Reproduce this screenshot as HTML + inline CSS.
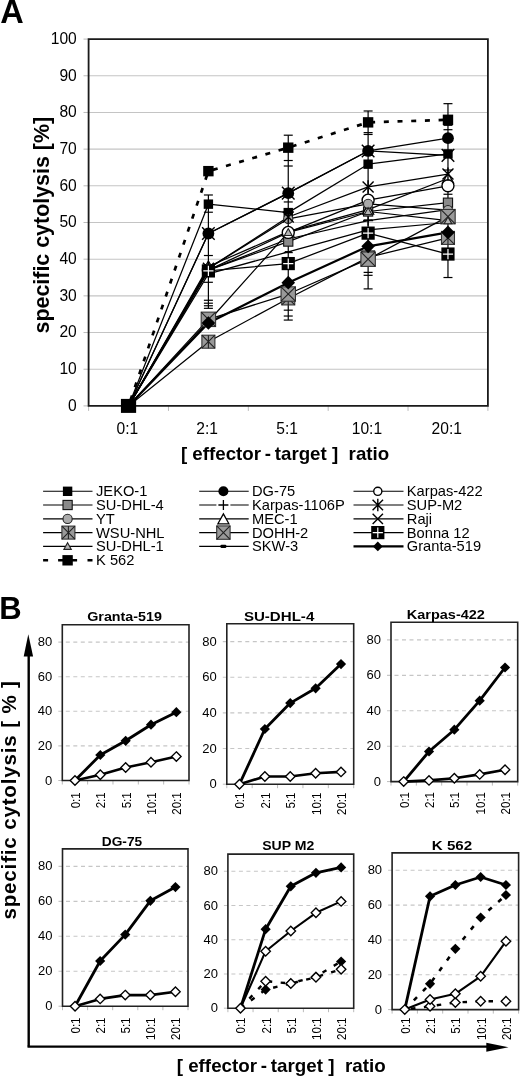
<!DOCTYPE html>
<html><head><meta charset="utf-8"><title>Figure</title>
<style>
html,body{margin:0;padding:0;background:#fff;}
body{width:520px;height:1077px;overflow:hidden;}
svg{display:block;will-change:transform;filter:blur(0.35px);}
text{font-family:"Liberation Sans", sans-serif;fill:#000;white-space:pre;}
</style></head><body>
<svg width="520" height="1077" viewBox="0 0 520 1077">
<rect width="520" height="1077" fill="#fff"/>
<line x1="88.6" y1="369.22" x2="487.9" y2="369.22" stroke="#c4c4c4" stroke-width="1.1"/>
<line x1="83.5" y1="369.22" x2="88.6" y2="369.22" stroke="#bbb" stroke-width="1"/>
<line x1="88.6" y1="332.54" x2="487.9" y2="332.54" stroke="#c4c4c4" stroke-width="1.1"/>
<line x1="83.5" y1="332.54" x2="88.6" y2="332.54" stroke="#bbb" stroke-width="1"/>
<line x1="88.6" y1="295.86" x2="487.9" y2="295.86" stroke="#c4c4c4" stroke-width="1.1"/>
<line x1="83.5" y1="295.86" x2="88.6" y2="295.86" stroke="#bbb" stroke-width="1"/>
<line x1="88.6" y1="259.18" x2="487.9" y2="259.18" stroke="#c4c4c4" stroke-width="1.1"/>
<line x1="83.5" y1="259.18" x2="88.6" y2="259.18" stroke="#bbb" stroke-width="1"/>
<line x1="88.6" y1="222.5" x2="487.9" y2="222.5" stroke="#c4c4c4" stroke-width="1.1"/>
<line x1="83.5" y1="222.5" x2="88.6" y2="222.5" stroke="#bbb" stroke-width="1"/>
<line x1="88.6" y1="185.82" x2="487.9" y2="185.82" stroke="#c4c4c4" stroke-width="1.1"/>
<line x1="83.5" y1="185.82" x2="88.6" y2="185.82" stroke="#bbb" stroke-width="1"/>
<line x1="88.6" y1="149.14" x2="487.9" y2="149.14" stroke="#c4c4c4" stroke-width="1.1"/>
<line x1="83.5" y1="149.14" x2="88.6" y2="149.14" stroke="#bbb" stroke-width="1"/>
<line x1="88.6" y1="112.46" x2="487.9" y2="112.46" stroke="#c4c4c4" stroke-width="1.1"/>
<line x1="83.5" y1="112.46" x2="88.6" y2="112.46" stroke="#bbb" stroke-width="1"/>
<line x1="88.6" y1="75.78" x2="487.9" y2="75.78" stroke="#c4c4c4" stroke-width="1.1"/>
<line x1="83.5" y1="75.78" x2="88.6" y2="75.78" stroke="#bbb" stroke-width="1"/>
<line x1="83.5" y1="39.1" x2="88.6" y2="39.1" stroke="#bbb" stroke-width="1"/>
<line x1="83.5" y1="405.9" x2="88.6" y2="405.9" stroke="#bbb" stroke-width="1"/>
<line x1="88.6" y1="405.9" x2="88.6" y2="410.9" stroke="#bbb" stroke-width="1"/>
<line x1="168.46" y1="405.9" x2="168.46" y2="410.9" stroke="#bbb" stroke-width="1"/>
<line x1="248.32" y1="405.9" x2="248.32" y2="410.9" stroke="#bbb" stroke-width="1"/>
<line x1="328.18" y1="405.9" x2="328.18" y2="410.9" stroke="#bbb" stroke-width="1"/>
<line x1="408.04" y1="405.9" x2="408.04" y2="410.9" stroke="#bbb" stroke-width="1"/>
<line x1="487.9" y1="405.9" x2="487.9" y2="410.9" stroke="#bbb" stroke-width="1"/>
<text x="76.8" y="410.8" text-anchor="end" font-size="15.6">0</text>
<text x="76.8" y="374.12" text-anchor="end" font-size="15.6">10</text>
<text x="76.8" y="337.44" text-anchor="end" font-size="15.6">20</text>
<text x="76.8" y="300.76" text-anchor="end" font-size="15.6">30</text>
<text x="76.8" y="264.08" text-anchor="end" font-size="15.6">40</text>
<text x="76.8" y="227.4" text-anchor="end" font-size="15.6">50</text>
<text x="76.8" y="190.72" text-anchor="end" font-size="15.6">60</text>
<text x="76.8" y="154.04" text-anchor="end" font-size="15.6">70</text>
<text x="76.8" y="117.36" text-anchor="end" font-size="15.6">80</text>
<text x="76.8" y="80.68" text-anchor="end" font-size="15.6">90</text>
<text x="76.8" y="44" text-anchor="end" font-size="15.6">100</text>
<text x="127.33" y="434.1" text-anchor="middle" font-size="15.6">0:1</text>
<text x="207.19" y="434.1" text-anchor="middle" font-size="15.6">2:1</text>
<text x="287.05" y="434.1" text-anchor="middle" font-size="15.6">5:1</text>
<text x="366.91" y="434.1" text-anchor="middle" font-size="15.6">10:1</text>
<text x="446.77" y="434.1" text-anchor="middle" font-size="15.6">20:1</text>
<path d="M88.6 39.1H487.9V405.9H88.6Z" fill="none" stroke="#1a1a1a" stroke-width="1.8"/>
<line x1="208.39" y1="194.99" x2="208.39" y2="308.33" stroke="#000" stroke-width="1.2"/>
<line x1="288.25" y1="135.2" x2="288.25" y2="320.07" stroke="#000" stroke-width="1.2"/>
<line x1="368.11" y1="110.99" x2="368.11" y2="288.89" stroke="#000" stroke-width="1.2"/>
<line x1="447.97" y1="103.66" x2="447.97" y2="277.52" stroke="#000" stroke-width="1.2"/>
<line x1="203.89" y1="194.99" x2="212.89" y2="194.99" stroke="#000" stroke-width="1.2"/>
<line x1="203.89" y1="212.23" x2="212.89" y2="212.23" stroke="#000" stroke-width="1.2"/>
<line x1="203.89" y1="255.51" x2="212.89" y2="255.51" stroke="#000" stroke-width="1.2"/>
<line x1="203.89" y1="282.29" x2="212.89" y2="282.29" stroke="#000" stroke-width="1.2"/>
<line x1="203.89" y1="300.26" x2="212.89" y2="300.26" stroke="#000" stroke-width="1.2"/>
<line x1="203.89" y1="303.2" x2="212.89" y2="303.2" stroke="#000" stroke-width="1.2"/>
<line x1="203.89" y1="305.76" x2="212.89" y2="305.76" stroke="#000" stroke-width="1.2"/>
<line x1="203.89" y1="308.33" x2="212.89" y2="308.33" stroke="#000" stroke-width="1.2"/>
<line x1="283.75" y1="135.2" x2="292.75" y2="135.2" stroke="#000" stroke-width="1.2"/>
<line x1="283.75" y1="160.51" x2="292.75" y2="160.51" stroke="#000" stroke-width="1.2"/>
<line x1="283.75" y1="166.01" x2="292.75" y2="166.01" stroke="#000" stroke-width="1.2"/>
<line x1="283.75" y1="201.96" x2="292.75" y2="201.96" stroke="#000" stroke-width="1.2"/>
<line x1="283.75" y1="252.58" x2="292.75" y2="252.58" stroke="#000" stroke-width="1.2"/>
<line x1="283.75" y1="310.17" x2="292.75" y2="310.17" stroke="#000" stroke-width="1.2"/>
<line x1="283.75" y1="316.03" x2="292.75" y2="316.03" stroke="#000" stroke-width="1.2"/>
<line x1="283.75" y1="320.07" x2="292.75" y2="320.07" stroke="#000" stroke-width="1.2"/>
<line x1="363.61" y1="110.99" x2="372.61" y2="110.99" stroke="#000" stroke-width="1.2"/>
<line x1="363.61" y1="132.63" x2="372.61" y2="132.63" stroke="#000" stroke-width="1.2"/>
<line x1="363.61" y1="134.47" x2="372.61" y2="134.47" stroke="#000" stroke-width="1.2"/>
<line x1="363.61" y1="219.93" x2="372.61" y2="219.93" stroke="#000" stroke-width="1.2"/>
<line x1="363.61" y1="272.38" x2="372.61" y2="272.38" stroke="#000" stroke-width="1.2"/>
<line x1="363.61" y1="275.32" x2="372.61" y2="275.32" stroke="#000" stroke-width="1.2"/>
<line x1="363.61" y1="288.89" x2="372.61" y2="288.89" stroke="#000" stroke-width="1.2"/>
<line x1="443.47" y1="103.66" x2="452.47" y2="103.66" stroke="#000" stroke-width="1.2"/>
<line x1="443.47" y1="125.3" x2="452.47" y2="125.3" stroke="#000" stroke-width="1.2"/>
<line x1="443.47" y1="129.7" x2="452.47" y2="129.7" stroke="#000" stroke-width="1.2"/>
<line x1="443.47" y1="170.05" x2="452.47" y2="170.05" stroke="#000" stroke-width="1.2"/>
<line x1="443.47" y1="194.26" x2="452.47" y2="194.26" stroke="#000" stroke-width="1.2"/>
<line x1="443.47" y1="277.52" x2="452.47" y2="277.52" stroke="#000" stroke-width="1.2"/>
<polyline points="128.53,405.9 208.39,341.71 288.25,298.43 368.11,257.35 447.97,237.91" fill="none" stroke="#000" stroke-width="1.25" stroke-linejoin="round"/>
<polyline points="128.53,405.9 208.39,273.85 288.25,251.84 368.11,229.84 447.97,222.5" fill="none" stroke="#000" stroke-width="1.25" stroke-linejoin="round"/>
<polyline points="128.53,405.9 208.39,270.18 288.25,239.01 368.11,220.67 447.97,209.66" fill="none" stroke="#000" stroke-width="1.25" stroke-linejoin="round"/>
<polyline points="128.53,405.9 208.39,270.18 288.25,241.57 368.11,211.5 447.97,202.69" fill="none" stroke="#000" stroke-width="1.25" stroke-linejoin="round"/>
<polyline points="128.53,405.9 208.39,319.34 288.25,294.03 368.11,259.18 447.97,216.63" fill="none" stroke="#000" stroke-width="1.25" stroke-linejoin="round"/>
<polyline points="128.53,405.9 208.39,266.52 288.25,231.67 368.11,209.66 447.97,178.48" fill="none" stroke="#000" stroke-width="1.25" stroke-linejoin="round"/>
<polyline points="128.53,405.9 208.39,204.16 288.25,212.6 368.11,164.18 447.97,153.91" fill="none" stroke="#000" stroke-width="1.25" stroke-linejoin="round"/>
<polyline points="128.53,405.9 208.39,270.18 288.25,232.4 368.11,200.13 447.97,185.82" fill="none" stroke="#000" stroke-width="1.25" stroke-linejoin="round"/>
<polyline points="128.53,405.9 208.39,268.35 288.25,218.83 368.11,203.79 447.97,210.03" fill="none" stroke="#000" stroke-width="1.25" stroke-linejoin="round"/>
<polyline points="128.53,405.9 208.39,321.54 288.25,232.4 368.11,211.5 447.97,220.67" fill="none" stroke="#000" stroke-width="1.25" stroke-linejoin="round"/>
<polyline points="128.53,405.9 208.39,268.35 288.25,217 368.11,186.92 447.97,174.08" fill="none" stroke="#000" stroke-width="1.25" stroke-linejoin="round"/>
<polyline points="128.53,405.9 208.39,233.5 288.25,193.16 368.11,150.97 447.97,155.38" fill="none" stroke="#000" stroke-width="1.25" stroke-linejoin="round"/>
<polyline points="128.53,405.9 208.39,270.92 288.25,263.58 368.11,233.14 447.97,254.04" fill="none" stroke="#000" stroke-width="1.25" stroke-linejoin="round"/>
<polyline points="128.53,405.9 208.39,323 288.25,282.66 368.11,246.34 447.97,232.4" fill="none" stroke="#000" stroke-width="2.2" stroke-linejoin="round"/>
<polyline points="128.53,405.9 208.39,233.5 288.25,193.16 368.11,150.97 447.97,138.14" fill="none" stroke="#000" stroke-width="1.25" stroke-linejoin="round"/>
<polyline points="128.53,405.9 208.39,171.15 288.25,147.67 368.11,122.36 447.97,119.8" fill="none" stroke="#000" stroke-width="2.7" stroke-dasharray="5 8.7" stroke-dashoffset="-6"/>
<rect x="201.89" y="335.21" width="13" height="13" fill="#999" stroke="#333" stroke-width="1.1"/><path d="M201.89 335.21L214.89 348.21M214.89 335.21L201.89 348.21" stroke="#222" stroke-width="1.1"/><path d="M208.39 335.21V348.21" stroke="#222" stroke-width="1.1"/>
<rect x="281.75" y="291.93" width="13" height="13" fill="#999" stroke="#333" stroke-width="1.1"/><path d="M281.75 291.93L294.75 304.93M294.75 291.93L281.75 304.93" stroke="#222" stroke-width="1.1"/><path d="M288.25 291.93V304.93" stroke="#222" stroke-width="1.1"/>
<rect x="361.61" y="250.85" width="13" height="13" fill="#999" stroke="#333" stroke-width="1.1"/><path d="M361.61 250.85L374.61 263.85M374.61 250.85L361.61 263.85" stroke="#222" stroke-width="1.1"/><path d="M368.11 250.85V263.85" stroke="#222" stroke-width="1.1"/>
<rect x="441.47" y="231.41" width="13" height="13" fill="#999" stroke="#333" stroke-width="1.1"/><path d="M441.47 231.41L454.47 244.41M454.47 231.41L441.47 244.41" stroke="#222" stroke-width="1.1"/><path d="M447.97 231.41V244.41" stroke="#222" stroke-width="1.1"/>
<path d="M204.89 273.85H211.89" stroke="#000" stroke-width="1.6"/>
<path d="M284.75 251.84H291.75" stroke="#000" stroke-width="1.6"/>
<path d="M364.61 229.84H371.61" stroke="#000" stroke-width="1.6"/>
<path d="M444.47 222.5H451.47" stroke="#000" stroke-width="1.6"/>
<path d="M203.39 270.18H213.39M208.39 265.18V275.18" stroke="#000" stroke-width="1.3"/>
<path d="M283.25 239.01H293.25M288.25 234.01V244.01" stroke="#000" stroke-width="1.3"/>
<path d="M363.11 220.67H373.11M368.11 215.67V225.67" stroke="#000" stroke-width="1.3"/>
<path d="M442.97 209.66H452.97M447.97 204.66V214.66" stroke="#000" stroke-width="1.3"/>
<rect x="203.79" y="265.58" width="9.2" height="9.2" fill="#8a8a8a" stroke="#111" stroke-width="1.1"/>
<rect x="283.65" y="236.97" width="9.2" height="9.2" fill="#8a8a8a" stroke="#111" stroke-width="1.1"/>
<rect x="363.51" y="206.9" width="9.2" height="9.2" fill="#8a8a8a" stroke="#111" stroke-width="1.1"/>
<rect x="443.37" y="198.09" width="9.2" height="9.2" fill="#8a8a8a" stroke="#111" stroke-width="1.1"/>
<circle cx="447.97" cy="210.03" r="4.6" fill="#aaa" stroke="#222" stroke-width="1.1"/>
<rect x="201.19" y="312.14" width="14.4" height="14.4" fill="#999" stroke="#333" stroke-width="1.1"/><path d="M201.19 312.14L215.59 326.54M215.59 312.14L201.19 326.54" stroke="#222" stroke-width="1.1"/>
<rect x="281.05" y="286.83" width="14.4" height="14.4" fill="#999" stroke="#333" stroke-width="1.1"/><path d="M281.05 286.83L295.45 301.23M295.45 286.83L281.05 301.23" stroke="#222" stroke-width="1.1"/>
<rect x="360.91" y="251.98" width="14.4" height="14.4" fill="#999" stroke="#333" stroke-width="1.1"/><path d="M360.91 251.98L375.31 266.38M375.31 251.98L360.91 266.38" stroke="#222" stroke-width="1.1"/>
<rect x="440.77" y="209.43" width="14.4" height="14.4" fill="#999" stroke="#333" stroke-width="1.1"/><path d="M440.77 209.43L455.17 223.83M455.17 209.43L440.77 223.83" stroke="#222" stroke-width="1.1"/>
<path d="M208.39 261.02L213.89 270.92L202.89 270.92Z" fill="#fff" stroke="#000" stroke-width="1.3"/>
<path d="M288.25 226.17L293.75 236.07L282.75 236.07Z" fill="#fff" stroke="#000" stroke-width="1.3"/>
<path d="M368.11 204.16L373.61 214.06L362.61 214.06Z" fill="#fff" stroke="#000" stroke-width="1.3"/>
<path d="M447.97 172.98L453.47 182.88L442.47 182.88Z" fill="#fff" stroke="#000" stroke-width="1.3"/>
<rect x="203.69" y="199.46" width="9.4" height="9.4" fill="#000"/>
<rect x="283.55" y="207.9" width="9.4" height="9.4" fill="#000"/>
<rect x="363.41" y="159.48" width="9.4" height="9.4" fill="#000"/>
<rect x="443.27" y="149.21" width="9.4" height="9.4" fill="#000"/>
<circle cx="208.39" cy="270.18" r="6" fill="#fff" stroke="#000" stroke-width="1.4"/>
<circle cx="288.25" cy="232.4" r="6" fill="#fff" stroke="#000" stroke-width="1.4"/>
<circle cx="368.11" cy="200.13" r="6" fill="#fff" stroke="#000" stroke-width="1.4"/>
<circle cx="447.97" cy="185.82" r="6" fill="#fff" stroke="#000" stroke-width="1.4"/>
<circle cx="208.39" cy="268.35" r="4.6" fill="#aaa" stroke="#222" stroke-width="1.1"/>
<circle cx="288.25" cy="218.83" r="4.6" fill="#aaa" stroke="#222" stroke-width="1.1"/>
<circle cx="368.11" cy="203.79" r="4.6" fill="#aaa" stroke="#222" stroke-width="1.1"/>
<path d="M208.39 317.74L212.19 324.58L204.59 324.58Z" fill="#b4b4b4" stroke="#222" stroke-width="1.1"/>
<path d="M288.25 228.6L292.05 235.44L284.45 235.44Z" fill="#b4b4b4" stroke="#222" stroke-width="1.1"/>
<path d="M368.11 207.7L371.91 214.54L364.31 214.54Z" fill="#b4b4b4" stroke="#222" stroke-width="1.1"/>
<path d="M447.97 216.87L451.77 223.71L444.17 223.71Z" fill="#b4b4b4" stroke="#222" stroke-width="1.1"/>
<path d="M202.89 262.85L213.89 273.85M213.89 262.85L202.89 273.85M208.39 261.75V274.95" stroke="#000" stroke-width="1.4"/>
<path d="M282.75 211.5L293.75 222.5M293.75 211.5L282.75 222.5M288.25 210.4V223.6" stroke="#000" stroke-width="1.4"/>
<path d="M362.61 181.42L373.61 192.42M373.61 181.42L362.61 192.42M368.11 180.32V193.52" stroke="#000" stroke-width="1.4"/>
<path d="M442.47 168.58L453.47 179.58M453.47 168.58L442.47 179.58M447.97 167.48V180.68" stroke="#000" stroke-width="1.4"/>
<path d="M202.09 227.2L214.69 239.8M214.69 227.2L202.09 239.8" stroke="#000" stroke-width="1.4"/>
<path d="M281.95 186.86L294.55 199.46M294.55 186.86L281.95 199.46" stroke="#000" stroke-width="1.4"/>
<path d="M361.81 144.67L374.41 157.27M374.41 144.67L361.81 157.27" stroke="#000" stroke-width="1.4"/>
<path d="M441.67 149.08L454.27 161.68M454.27 149.08L441.67 161.68" stroke="#000" stroke-width="1.4"/>
<rect x="201.79" y="264.32" width="13.2" height="13.2" fill="#000"/><path d="M203.29 270.92H213.49M208.39 265.82V276.02" stroke="#fff" stroke-width="1.2"/>
<rect x="281.65" y="256.98" width="13.2" height="13.2" fill="#000"/><path d="M283.15 263.58H293.35M288.25 258.48V268.68" stroke="#fff" stroke-width="1.2"/>
<rect x="361.51" y="226.54" width="13.2" height="13.2" fill="#000"/><path d="M363.01 233.14H373.21M368.11 228.04V238.24" stroke="#fff" stroke-width="1.2"/>
<rect x="441.37" y="247.44" width="13.2" height="13.2" fill="#000"/><path d="M442.87 254.04H453.07M447.97 248.94V259.14" stroke="#fff" stroke-width="1.2"/>
<path d="M208.39 316.2L215.19 323L208.39 329.8L201.59 323Z" fill="#000"/>
<path d="M288.25 275.86L295.05 282.66L288.25 289.46L281.45 282.66Z" fill="#000"/>
<path d="M368.11 239.54L374.91 246.34L368.11 253.14L361.31 246.34Z" fill="#000"/>
<path d="M447.97 225.6L454.77 232.4L447.97 239.2L441.17 232.4Z" fill="#000"/>
<circle cx="208.39" cy="233.5" r="5.9" fill="#000"/>
<circle cx="288.25" cy="193.16" r="5.9" fill="#000"/>
<circle cx="368.11" cy="150.97" r="5.9" fill="#000"/>
<circle cx="447.97" cy="138.14" r="5.9" fill="#000"/>
<rect x="203.19" y="165.95" width="10.4" height="10.4" fill="#000"/>
<rect x="283.05" y="142.47" width="10.4" height="10.4" fill="#000"/>
<rect x="362.91" y="117.16" width="10.4" height="10.4" fill="#000"/>
<rect x="442.77" y="114.6" width="10.4" height="10.4" fill="#000"/>
<rect x="120.93" y="398.9" width="15.2" height="14" fill="#000"/>
<text x="0.2" y="22.9" font-size="32.5" font-weight="bold">A</text>
<text transform="translate(48.9,333.5) rotate(-90)" font-size="21.4" font-weight="bold" textLength="216.6" lengthAdjust="spacingAndGlyphs">specific cytolysis [%]</text>
<text x="180.9" y="460.1" font-size="18.4" font-weight="bold" textLength="208.3" lengthAdjust="spacingAndGlyphs">[ effector&#8201;-&#8201;target ]  ratio</text>
<line x1="43.1" y1="491.3" x2="92.5" y2="491.3" stroke="#000" stroke-width="1.1"/>
<rect x="62.9" y="486.6" width="9.4" height="9.4" fill="#000"/>
<text x="96" y="496.3" font-size="14.2" textLength="51.41" lengthAdjust="spacingAndGlyphs">JEKO-1</text>
<line x1="43.1" y1="505" x2="92.5" y2="505" stroke="#000" stroke-width="1.1"/>
<rect x="63" y="500.4" width="9.2" height="9.2" fill="#8a8a8a" stroke="#111" stroke-width="1.1"/>
<text x="96" y="510" font-size="14.2" textLength="67.73" lengthAdjust="spacingAndGlyphs">SU-DHL-4</text>
<line x1="43.1" y1="518.9" x2="92.5" y2="518.9" stroke="#000" stroke-width="1.1"/>
<circle cx="67.6" cy="518.9" r="4.6" fill="#aaa" stroke="#222" stroke-width="1.1"/>
<text x="96" y="523.9" font-size="14.2" textLength="18.78" lengthAdjust="spacingAndGlyphs">YT</text>
<line x1="43.1" y1="532.6" x2="92.5" y2="532.6" stroke="#000" stroke-width="1.1"/>
<rect x="61.9" y="526.1" width="13" height="13" fill="#999" stroke="#333" stroke-width="1.1"/><path d="M61.9 526.1L74.9 539.1M74.9 526.1L61.9 539.1" stroke="#222" stroke-width="1.1"/><path d="M68.4 526.1V539.1" stroke="#222" stroke-width="1.1"/>
<text x="96" y="537.6" font-size="14.2" textLength="68.54" lengthAdjust="spacingAndGlyphs">WSU-NHL</text>
<line x1="43.1" y1="546.4" x2="92.5" y2="546.4" stroke="#000" stroke-width="1.1"/>
<path d="M67.6 542.68L71.32 549.38L63.88 549.38Z" fill="#b4b4b4" stroke="#222" stroke-width="1.1"/>
<text x="96" y="551.4" font-size="14.2" textLength="67.73" lengthAdjust="spacingAndGlyphs">SU-DHL-1</text>
<path d="M43.1 560.3H48.1M58.1 560.3H77.1M87.5 560.3H92.5" stroke="#000" stroke-width="2.6"/>
<rect x="62.4" y="555.1" width="10.4" height="10.4" fill="#000"/>
<text x="96" y="565.3" font-size="14.2" textLength="38.38" lengthAdjust="spacingAndGlyphs">K 562</text>
<line x1="199.2" y1="491.3" x2="248.7" y2="491.3" stroke="#000" stroke-width="1.1"/>
<circle cx="223.4" cy="491.3" r="5.02" fill="#000"/>
<text x="252" y="496.3" font-size="14.2" textLength="43.24" lengthAdjust="spacingAndGlyphs">DG-75</text>
<line x1="199.2" y1="505" x2="248.7" y2="505" stroke="#000" stroke-width="1.1"/>
<rect x="216.4" y="503.5" width="14" height="3" fill="#fff"/>
<path d="M218.4 505H228.4M223.4 500V510" stroke="#000" stroke-width="1.3"/>
<text x="252" y="510" font-size="14.2" textLength="92.79" lengthAdjust="spacingAndGlyphs">Karpas-1106P</text>
<line x1="199.2" y1="518.9" x2="248.7" y2="518.9" stroke="#000" stroke-width="1.1"/>
<path d="M223.4 513.9L228.9 523.8L217.9 523.8Z" fill="#fff" stroke="#000" stroke-width="1.3"/>
<text x="252" y="523.9" font-size="14.2" textLength="45.69" lengthAdjust="spacingAndGlyphs">MEC-1</text>
<line x1="199.2" y1="532.6" x2="248.7" y2="532.6" stroke="#000" stroke-width="1.1"/>
<rect x="216.7" y="525.9" width="13.39" height="13.39" fill="#999" stroke="#333" stroke-width="1.1"/><path d="M216.7 525.9L230.1 539.3M230.1 525.9L216.7 539.3" stroke="#222" stroke-width="1.1"/>
<text x="252" y="537.6" font-size="14.2" textLength="56.29" lengthAdjust="spacingAndGlyphs">DOHH-2</text>
<line x1="199.2" y1="546.4" x2="248.7" y2="546.4" stroke="#000" stroke-width="1.1"/>
<rect x="220.4" y="544.8" width="6" height="3.2" rx="1.2" fill="#000"/>
<text x="252" y="551.4" font-size="14.2" textLength="46.25" lengthAdjust="spacingAndGlyphs">SKW-3</text>
<line x1="353.5" y1="491.3" x2="403.5" y2="491.3" stroke="#000" stroke-width="1.1"/>
<circle cx="377.8" cy="491.3" r="4.08" fill="#fff" stroke="#000" stroke-width="1.4"/>
<text x="406.8" y="496.3" font-size="14.2" textLength="75.91" lengthAdjust="spacingAndGlyphs">Karpas-422</text>
<line x1="353.5" y1="505" x2="403.5" y2="505" stroke="#000" stroke-width="1.1"/>
<path d="M372.57 499.77L383.03 510.23M383.03 499.77L372.57 510.23M377.8 498.73V511.27" stroke="#000" stroke-width="1.4"/>
<text x="406.8" y="510" font-size="14.2" textLength="55.49" lengthAdjust="spacingAndGlyphs">SUP-M2</text>
<line x1="353.5" y1="518.9" x2="403.5" y2="518.9" stroke="#000" stroke-width="1.1"/>
<path d="M372.63 513.73L382.97 524.07M382.97 513.73L372.63 524.07" stroke="#000" stroke-width="1.4"/>
<text x="406.8" y="523.9" font-size="14.2" textLength="25.31" lengthAdjust="spacingAndGlyphs">Raji</text>
<line x1="353.5" y1="532.6" x2="403.5" y2="532.6" stroke="#000" stroke-width="1.1"/>
<rect x="371.2" y="526" width="13.2" height="13.2" fill="#000"/><path d="M372.7 532.6H382.9M377.8 527.5V537.7" stroke="#fff" stroke-width="1.2"/>
<text x="406.8" y="537.6" font-size="14.2" textLength="62.88" lengthAdjust="spacingAndGlyphs">Bonna 12</text>
<line x1="353.5" y1="546.4" x2="403.5" y2="546.4" stroke="#000" stroke-width="2.2"/>
<path d="M377.8 541.5L382.7 546.4L377.8 551.3L372.9 546.4Z" fill="#000"/>
<text x="406.8" y="551.4" font-size="14.2" textLength="74.26" lengthAdjust="spacingAndGlyphs">Granta-519</text>
<line x1="58.3" y1="745.9" x2="189" y2="745.9" stroke="#c6c6c6" stroke-width="1.1" stroke-dasharray="4 3.5"/>
<line x1="58.3" y1="711.3" x2="189" y2="711.3" stroke="#c6c6c6" stroke-width="1.1" stroke-dasharray="4 3.5"/>
<line x1="58.3" y1="676.7" x2="189" y2="676.7" stroke="#c6c6c6" stroke-width="1.1" stroke-dasharray="4 3.5"/>
<line x1="58.3" y1="642.1" x2="189" y2="642.1" stroke="#c6c6c6" stroke-width="1.1" stroke-dasharray="4 3.5"/>
<line x1="58.3" y1="780.5" x2="62.3" y2="780.5" stroke="#bbb" stroke-width="1"/>
<line x1="62.3" y1="780.5" x2="62.3" y2="784.5" stroke="#bbb" stroke-width="1"/>
<line x1="87.64" y1="780.5" x2="87.64" y2="784.5" stroke="#bbb" stroke-width="1"/>
<line x1="112.98" y1="780.5" x2="112.98" y2="784.5" stroke="#bbb" stroke-width="1"/>
<line x1="138.32" y1="780.5" x2="138.32" y2="784.5" stroke="#bbb" stroke-width="1"/>
<line x1="163.66" y1="780.5" x2="163.66" y2="784.5" stroke="#bbb" stroke-width="1"/>
<line x1="189" y1="780.5" x2="189" y2="784.5" stroke="#bbb" stroke-width="1"/>
<text x="52.3" y="784.6" text-anchor="end" font-size="13">0</text>
<text x="52.3" y="750" text-anchor="end" font-size="13">20</text>
<text x="52.3" y="715.4" text-anchor="end" font-size="13">40</text>
<text x="52.3" y="680.8" text-anchor="end" font-size="13">60</text>
<text x="52.3" y="646.2" text-anchor="end" font-size="13">80</text>
<text transform="translate(79.87,792.3) rotate(-90) scale(0.86,1)" text-anchor="end" font-size="13.4">0:1</text>
<text transform="translate(105.21,792.3) rotate(-90) scale(0.86,1)" text-anchor="end" font-size="13.4">2:1</text>
<text transform="translate(130.55,792.3) rotate(-90) scale(0.86,1)" text-anchor="end" font-size="13.4">5:1</text>
<text transform="translate(155.89,792.3) rotate(-90) scale(0.86,1)" text-anchor="end" font-size="13.4">10:1</text>
<text transform="translate(181.23,792.3) rotate(-90) scale(0.86,1)" text-anchor="end" font-size="13.4">20:1</text>
<path d="M62.3 624.8H189V780.5H62.3Z" fill="none" stroke="#222" stroke-width="1.6"/>
<polyline points="74.97,780.5 100.31,774.8 125.65,767.5 150.99,762.3 176.33,756.6" fill="none" stroke="#000" stroke-width="2.6" stroke-linejoin="round"/>
<polyline points="74.97,780.5 100.31,755 125.65,740.8 150.99,724.7 176.33,712.2" fill="none" stroke="#000" stroke-width="2.8" stroke-linejoin="round"/>
<path d="M100.31 770.05L105.06 774.8L100.31 779.55L95.56 774.8Z" fill="#fff" stroke="#000" stroke-width="1.35"/>
<path d="M125.65 762.75L130.4 767.5L125.65 772.25L120.9 767.5Z" fill="#fff" stroke="#000" stroke-width="1.35"/>
<path d="M150.99 757.55L155.74 762.3L150.99 767.05L146.24 762.3Z" fill="#fff" stroke="#000" stroke-width="1.35"/>
<path d="M176.33 751.85L181.08 756.6L176.33 761.35L171.58 756.6Z" fill="#fff" stroke="#000" stroke-width="1.35"/>
<path d="M100.31 749.9L105.41 755L100.31 760.1L95.21 755Z" fill="#000"/>
<path d="M125.65 735.7L130.75 740.8L125.65 745.9L120.55 740.8Z" fill="#000"/>
<path d="M150.99 719.6L156.09 724.7L150.99 729.8L145.89 724.7Z" fill="#000"/>
<path d="M176.33 707.1L181.43 712.2L176.33 717.3L171.23 712.2Z" fill="#000"/>
<path d="M74.97 775.75L79.72 780.5L74.97 785.25L70.22 780.5Z" fill="#fff" stroke="#000" stroke-width="1.35"/>
<text x="87.2" y="620.8" font-size="13.5" font-weight="bold" textLength="74.8" lengthAdjust="spacingAndGlyphs">Granta-519</text>
<line x1="222.8" y1="748.56" x2="353.7" y2="748.56" stroke="#c6c6c6" stroke-width="1.1" stroke-dasharray="4 3.5"/>
<line x1="222.8" y1="712.91" x2="353.7" y2="712.91" stroke="#c6c6c6" stroke-width="1.1" stroke-dasharray="4 3.5"/>
<line x1="222.8" y1="677.27" x2="353.7" y2="677.27" stroke="#c6c6c6" stroke-width="1.1" stroke-dasharray="4 3.5"/>
<line x1="222.8" y1="641.62" x2="353.7" y2="641.62" stroke="#c6c6c6" stroke-width="1.1" stroke-dasharray="4 3.5"/>
<line x1="222.8" y1="784.2" x2="226.8" y2="784.2" stroke="#bbb" stroke-width="1"/>
<line x1="226.8" y1="784.2" x2="226.8" y2="788.2" stroke="#bbb" stroke-width="1"/>
<line x1="252.18" y1="784.2" x2="252.18" y2="788.2" stroke="#bbb" stroke-width="1"/>
<line x1="277.56" y1="784.2" x2="277.56" y2="788.2" stroke="#bbb" stroke-width="1"/>
<line x1="302.94" y1="784.2" x2="302.94" y2="788.2" stroke="#bbb" stroke-width="1"/>
<line x1="328.32" y1="784.2" x2="328.32" y2="788.2" stroke="#bbb" stroke-width="1"/>
<line x1="353.7" y1="784.2" x2="353.7" y2="788.2" stroke="#bbb" stroke-width="1"/>
<text x="216.8" y="788.3" text-anchor="end" font-size="13">0</text>
<text x="216.8" y="752.66" text-anchor="end" font-size="13">20</text>
<text x="216.8" y="717.01" text-anchor="end" font-size="13">40</text>
<text x="216.8" y="681.37" text-anchor="end" font-size="13">60</text>
<text x="216.8" y="645.72" text-anchor="end" font-size="13">80</text>
<text transform="translate(244.39,792.6) rotate(-90) scale(0.86,1)" text-anchor="end" font-size="13.4">0:1</text>
<text transform="translate(269.77,792.6) rotate(-90) scale(0.86,1)" text-anchor="end" font-size="13.4">2:1</text>
<text transform="translate(295.15,792.6) rotate(-90) scale(0.86,1)" text-anchor="end" font-size="13.4">5:1</text>
<text transform="translate(320.53,792.6) rotate(-90) scale(0.86,1)" text-anchor="end" font-size="13.4">10:1</text>
<text transform="translate(345.91,792.6) rotate(-90) scale(0.86,1)" text-anchor="end" font-size="13.4">20:1</text>
<path d="M226.8 623.8H353.7V784.2H226.8Z" fill="none" stroke="#222" stroke-width="1.6"/>
<polyline points="239.49,784.2 264.87,776.5 290.25,776.5 315.63,773.2 341.01,771.9" fill="none" stroke="#000" stroke-width="2.6" stroke-linejoin="round"/>
<polyline points="239.49,784.2 264.87,729 290.25,703.1 315.63,688.3 341.01,664.1" fill="none" stroke="#000" stroke-width="2.8" stroke-linejoin="round"/>
<path d="M264.87 771.75L269.62 776.5L264.87 781.25L260.12 776.5Z" fill="#fff" stroke="#000" stroke-width="1.35"/>
<path d="M290.25 771.75L295 776.5L290.25 781.25L285.5 776.5Z" fill="#fff" stroke="#000" stroke-width="1.35"/>
<path d="M315.63 768.45L320.38 773.2L315.63 777.95L310.88 773.2Z" fill="#fff" stroke="#000" stroke-width="1.35"/>
<path d="M341.01 767.15L345.76 771.9L341.01 776.65L336.26 771.9Z" fill="#fff" stroke="#000" stroke-width="1.35"/>
<path d="M264.87 723.9L269.97 729L264.87 734.1L259.77 729Z" fill="#000"/>
<path d="M290.25 698L295.35 703.1L290.25 708.2L285.15 703.1Z" fill="#000"/>
<path d="M315.63 683.2L320.73 688.3L315.63 693.4L310.53 688.3Z" fill="#000"/>
<path d="M341.01 659L346.11 664.1L341.01 669.2L335.91 664.1Z" fill="#000"/>
<path d="M239.49 779.45L244.24 784.2L239.49 788.95L234.74 784.2Z" fill="#fff" stroke="#000" stroke-width="1.35"/>
<text x="243.9" y="620.8" font-size="13.5" font-weight="bold" textLength="70.4" lengthAdjust="spacingAndGlyphs">SU-DHL-4</text>
<line x1="387" y1="746.18" x2="517.7" y2="746.18" stroke="#c6c6c6" stroke-width="1.1" stroke-dasharray="4 3.5"/>
<line x1="387" y1="710.76" x2="517.7" y2="710.76" stroke="#c6c6c6" stroke-width="1.1" stroke-dasharray="4 3.5"/>
<line x1="387" y1="675.33" x2="517.7" y2="675.33" stroke="#c6c6c6" stroke-width="1.1" stroke-dasharray="4 3.5"/>
<line x1="387" y1="639.91" x2="517.7" y2="639.91" stroke="#c6c6c6" stroke-width="1.1" stroke-dasharray="4 3.5"/>
<line x1="387" y1="781.6" x2="391" y2="781.6" stroke="#bbb" stroke-width="1"/>
<line x1="391" y1="781.6" x2="391" y2="785.6" stroke="#bbb" stroke-width="1"/>
<line x1="416.34" y1="781.6" x2="416.34" y2="785.6" stroke="#bbb" stroke-width="1"/>
<line x1="441.68" y1="781.6" x2="441.68" y2="785.6" stroke="#bbb" stroke-width="1"/>
<line x1="467.02" y1="781.6" x2="467.02" y2="785.6" stroke="#bbb" stroke-width="1"/>
<line x1="492.36" y1="781.6" x2="492.36" y2="785.6" stroke="#bbb" stroke-width="1"/>
<line x1="517.7" y1="781.6" x2="517.7" y2="785.6" stroke="#bbb" stroke-width="1"/>
<text x="381" y="785.7" text-anchor="end" font-size="13">0</text>
<text x="381" y="750.28" text-anchor="end" font-size="13">20</text>
<text x="381" y="714.86" text-anchor="end" font-size="13">40</text>
<text x="381" y="679.43" text-anchor="end" font-size="13">60</text>
<text x="381" y="644.01" text-anchor="end" font-size="13">80</text>
<text transform="translate(408.57,792) rotate(-90) scale(0.86,1)" text-anchor="end" font-size="13.4">0:1</text>
<text transform="translate(433.91,792) rotate(-90) scale(0.86,1)" text-anchor="end" font-size="13.4">2:1</text>
<text transform="translate(459.25,792) rotate(-90) scale(0.86,1)" text-anchor="end" font-size="13.4">5:1</text>
<text transform="translate(484.59,792) rotate(-90) scale(0.86,1)" text-anchor="end" font-size="13.4">10:1</text>
<text transform="translate(509.93,792) rotate(-90) scale(0.86,1)" text-anchor="end" font-size="13.4">20:1</text>
<path d="M391 622.2H517.7V781.6H391Z" fill="none" stroke="#222" stroke-width="1.6"/>
<polyline points="403.67,781.6 429.01,780.4 454.35,778.2 479.69,774.4 505.03,769.8" fill="none" stroke="#000" stroke-width="2.6" stroke-linejoin="round"/>
<polyline points="403.67,781.6 429.01,751.5 454.35,729.7 479.69,700.7 505.03,667.5" fill="none" stroke="#000" stroke-width="2.8" stroke-linejoin="round"/>
<path d="M429.01 775.65L433.76 780.4L429.01 785.15L424.26 780.4Z" fill="#fff" stroke="#000" stroke-width="1.35"/>
<path d="M454.35 773.45L459.1 778.2L454.35 782.95L449.6 778.2Z" fill="#fff" stroke="#000" stroke-width="1.35"/>
<path d="M479.69 769.65L484.44 774.4L479.69 779.15L474.94 774.4Z" fill="#fff" stroke="#000" stroke-width="1.35"/>
<path d="M505.03 765.05L509.78 769.8L505.03 774.55L500.28 769.8Z" fill="#fff" stroke="#000" stroke-width="1.35"/>
<path d="M429.01 746.4L434.11 751.5L429.01 756.6L423.91 751.5Z" fill="#000"/>
<path d="M454.35 724.6L459.45 729.7L454.35 734.8L449.25 729.7Z" fill="#000"/>
<path d="M479.69 695.6L484.79 700.7L479.69 705.8L474.59 700.7Z" fill="#000"/>
<path d="M505.03 662.4L510.13 667.5L505.03 672.6L499.93 667.5Z" fill="#000"/>
<path d="M403.67 776.85L408.42 781.6L403.67 786.35L398.92 781.6Z" fill="#fff" stroke="#000" stroke-width="1.35"/>
<text x="406.8" y="618.8" font-size="13.5" font-weight="bold" textLength="78.1" lengthAdjust="spacingAndGlyphs">Karpas-422</text>
<line x1="58.5" y1="971.24" x2="188" y2="971.24" stroke="#c6c6c6" stroke-width="1.1" stroke-dasharray="4 3.5"/>
<line x1="58.5" y1="936.29" x2="188" y2="936.29" stroke="#c6c6c6" stroke-width="1.1" stroke-dasharray="4 3.5"/>
<line x1="58.5" y1="901.33" x2="188" y2="901.33" stroke="#c6c6c6" stroke-width="1.1" stroke-dasharray="4 3.5"/>
<line x1="58.5" y1="866.38" x2="188" y2="866.38" stroke="#c6c6c6" stroke-width="1.1" stroke-dasharray="4 3.5"/>
<line x1="58.5" y1="1006.2" x2="62.5" y2="1006.2" stroke="#bbb" stroke-width="1"/>
<line x1="62.5" y1="1006.2" x2="62.5" y2="1010.2" stroke="#bbb" stroke-width="1"/>
<line x1="87.6" y1="1006.2" x2="87.6" y2="1010.2" stroke="#bbb" stroke-width="1"/>
<line x1="112.7" y1="1006.2" x2="112.7" y2="1010.2" stroke="#bbb" stroke-width="1"/>
<line x1="137.8" y1="1006.2" x2="137.8" y2="1010.2" stroke="#bbb" stroke-width="1"/>
<line x1="162.9" y1="1006.2" x2="162.9" y2="1010.2" stroke="#bbb" stroke-width="1"/>
<line x1="188" y1="1006.2" x2="188" y2="1010.2" stroke="#bbb" stroke-width="1"/>
<text x="52.5" y="1010.3" text-anchor="end" font-size="13">0</text>
<text x="52.5" y="975.34" text-anchor="end" font-size="13">20</text>
<text x="52.5" y="940.39" text-anchor="end" font-size="13">40</text>
<text x="52.5" y="905.43" text-anchor="end" font-size="13">60</text>
<text x="52.5" y="870.48" text-anchor="end" font-size="13">80</text>
<text transform="translate(79.95,1017.5) rotate(-90) scale(0.86,1)" text-anchor="end" font-size="13.4">0:1</text>
<text transform="translate(105.05,1017.5) rotate(-90) scale(0.86,1)" text-anchor="end" font-size="13.4">2:1</text>
<text transform="translate(130.15,1017.5) rotate(-90) scale(0.86,1)" text-anchor="end" font-size="13.4">5:1</text>
<text transform="translate(155.25,1017.5) rotate(-90) scale(0.86,1)" text-anchor="end" font-size="13.4">10:1</text>
<text transform="translate(180.35,1017.5) rotate(-90) scale(0.86,1)" text-anchor="end" font-size="13.4">20:1</text>
<path d="M62.5 848.9H188V1006.2H62.5Z" fill="none" stroke="#222" stroke-width="1.6"/>
<polyline points="75.05,1006.2 100.15,998.9 125.25,995.1 150.35,995.1 175.45,991.7" fill="none" stroke="#000" stroke-width="2.6" stroke-linejoin="round"/>
<polyline points="75.05,1006.2 100.15,961 125.25,934.6 150.35,900.8 175.45,887.1" fill="none" stroke="#000" stroke-width="2.8" stroke-linejoin="round"/>
<path d="M100.15 994.15L104.9 998.9L100.15 1003.65L95.4 998.9Z" fill="#fff" stroke="#000" stroke-width="1.35"/>
<path d="M125.25 990.35L130 995.1L125.25 999.85L120.5 995.1Z" fill="#fff" stroke="#000" stroke-width="1.35"/>
<path d="M150.35 990.35L155.1 995.1L150.35 999.85L145.6 995.1Z" fill="#fff" stroke="#000" stroke-width="1.35"/>
<path d="M175.45 986.95L180.2 991.7L175.45 996.45L170.7 991.7Z" fill="#fff" stroke="#000" stroke-width="1.35"/>
<path d="M100.15 955.9L105.25 961L100.15 966.1L95.05 961Z" fill="#000"/>
<path d="M125.25 929.5L130.35 934.6L125.25 939.7L120.15 934.6Z" fill="#000"/>
<path d="M150.35 895.7L155.45 900.8L150.35 905.9L145.25 900.8Z" fill="#000"/>
<path d="M175.45 882L180.55 887.1L175.45 892.2L170.35 887.1Z" fill="#000"/>
<path d="M75.05 1001.45L79.8 1006.2L75.05 1010.95L70.3 1006.2Z" fill="#fff" stroke="#000" stroke-width="1.35"/>
<text x="101.8" y="846.2" font-size="13.5" font-weight="bold" textLength="40.4" lengthAdjust="spacingAndGlyphs">DG-75</text>
<line x1="223.9" y1="973.96" x2="353.7" y2="973.96" stroke="#c6c6c6" stroke-width="1.1" stroke-dasharray="4 3.5"/>
<line x1="223.9" y1="939.71" x2="353.7" y2="939.71" stroke="#c6c6c6" stroke-width="1.1" stroke-dasharray="4 3.5"/>
<line x1="223.9" y1="905.47" x2="353.7" y2="905.47" stroke="#c6c6c6" stroke-width="1.1" stroke-dasharray="4 3.5"/>
<line x1="223.9" y1="871.22" x2="353.7" y2="871.22" stroke="#c6c6c6" stroke-width="1.1" stroke-dasharray="4 3.5"/>
<line x1="223.9" y1="1008.2" x2="227.9" y2="1008.2" stroke="#bbb" stroke-width="1"/>
<line x1="227.9" y1="1008.2" x2="227.9" y2="1012.2" stroke="#bbb" stroke-width="1"/>
<line x1="253.06" y1="1008.2" x2="253.06" y2="1012.2" stroke="#bbb" stroke-width="1"/>
<line x1="278.22" y1="1008.2" x2="278.22" y2="1012.2" stroke="#bbb" stroke-width="1"/>
<line x1="303.38" y1="1008.2" x2="303.38" y2="1012.2" stroke="#bbb" stroke-width="1"/>
<line x1="328.54" y1="1008.2" x2="328.54" y2="1012.2" stroke="#bbb" stroke-width="1"/>
<line x1="353.7" y1="1008.2" x2="353.7" y2="1012.2" stroke="#bbb" stroke-width="1"/>
<text x="217.9" y="1012.3" text-anchor="end" font-size="13">0</text>
<text x="217.9" y="978.06" text-anchor="end" font-size="13">20</text>
<text x="217.9" y="943.81" text-anchor="end" font-size="13">40</text>
<text x="217.9" y="909.57" text-anchor="end" font-size="13">60</text>
<text x="217.9" y="875.32" text-anchor="end" font-size="13">80</text>
<text transform="translate(245.38,1017.5) rotate(-90) scale(0.86,1)" text-anchor="end" font-size="13.4">0:1</text>
<text transform="translate(270.54,1017.5) rotate(-90) scale(0.86,1)" text-anchor="end" font-size="13.4">2:1</text>
<text transform="translate(295.7,1017.5) rotate(-90) scale(0.86,1)" text-anchor="end" font-size="13.4">5:1</text>
<text transform="translate(320.86,1017.5) rotate(-90) scale(0.86,1)" text-anchor="end" font-size="13.4">10:1</text>
<text transform="translate(346.02,1017.5) rotate(-90) scale(0.86,1)" text-anchor="end" font-size="13.4">20:1</text>
<path d="M227.9 854.1H353.7V1008.2H227.9Z" fill="none" stroke="#222" stroke-width="1.6"/>
<polyline points="240.48,1008.2 265.64,981.2 290.8,983.5 315.96,977.2 341.12,969.2" fill="none" stroke="#000" stroke-width="2.4" stroke-linejoin="round" stroke-dasharray="4.5 8.5"/>
<polyline points="240.48,1008.2 265.64,989.6 290.8,983.3 315.96,976.5 341.12,961.5" fill="none" stroke="#000" stroke-width="2.4" stroke-linejoin="round" stroke-dasharray="4.5 8.5"/>
<polyline points="240.48,1008.2 265.64,951.2 290.8,931 315.96,912.8 341.12,901.4" fill="none" stroke="#000" stroke-width="2.1" stroke-linejoin="round"/>
<polyline points="240.48,1008.2 265.64,929.2 290.8,886.3 315.96,872.8 341.12,867.4" fill="none" stroke="#000" stroke-width="2.8" stroke-linejoin="round"/>
<path d="M265.64 984.5L270.74 989.6L265.64 994.7L260.54 989.6Z" fill="#000"/>
<path d="M290.8 978.2L295.9 983.3L290.8 988.4L285.7 983.3Z" fill="#000"/>
<path d="M315.96 971.4L321.06 976.5L315.96 981.6L310.86 976.5Z" fill="#000"/>
<path d="M341.12 956.4L346.22 961.5L341.12 966.6L336.02 961.5Z" fill="#000"/>
<path d="M265.64 976.45L270.39 981.2L265.64 985.95L260.89 981.2Z" fill="#fff" stroke="#000" stroke-width="1.35"/>
<path d="M290.8 978.75L295.55 983.5L290.8 988.25L286.05 983.5Z" fill="#fff" stroke="#000" stroke-width="1.35"/>
<path d="M315.96 972.45L320.71 977.2L315.96 981.95L311.21 977.2Z" fill="#fff" stroke="#000" stroke-width="1.35"/>
<path d="M341.12 964.45L345.87 969.2L341.12 973.95L336.37 969.2Z" fill="#fff" stroke="#000" stroke-width="1.35"/>
<path d="M265.64 946.45L270.39 951.2L265.64 955.95L260.89 951.2Z" fill="#fff" stroke="#000" stroke-width="1.35"/>
<path d="M290.8 926.25L295.55 931L290.8 935.75L286.05 931Z" fill="#fff" stroke="#000" stroke-width="1.35"/>
<path d="M315.96 908.05L320.71 912.8L315.96 917.55L311.21 912.8Z" fill="#fff" stroke="#000" stroke-width="1.35"/>
<path d="M341.12 896.65L345.87 901.4L341.12 906.15L336.37 901.4Z" fill="#fff" stroke="#000" stroke-width="1.35"/>
<path d="M265.64 924.1L270.74 929.2L265.64 934.3L260.54 929.2Z" fill="#000"/>
<path d="M290.8 881.2L295.9 886.3L290.8 891.4L285.7 886.3Z" fill="#000"/>
<path d="M315.96 867.7L321.06 872.8L315.96 877.9L310.86 872.8Z" fill="#000"/>
<path d="M341.12 862.3L346.22 867.4L341.12 872.5L336.02 867.4Z" fill="#000"/>
<path d="M240.48 1003.45L245.23 1008.2L240.48 1012.95L235.73 1008.2Z" fill="#fff" stroke="#000" stroke-width="1.35"/>
<text x="262.2" y="850" font-size="13.5" font-weight="bold" textLength="52.1" lengthAdjust="spacingAndGlyphs">SUP M2</text>
<line x1="388.1" y1="974.78" x2="518.6" y2="974.78" stroke="#c6c6c6" stroke-width="1.1" stroke-dasharray="4 3.5"/>
<line x1="388.1" y1="939.96" x2="518.6" y2="939.96" stroke="#c6c6c6" stroke-width="1.1" stroke-dasharray="4 3.5"/>
<line x1="388.1" y1="905.13" x2="518.6" y2="905.13" stroke="#c6c6c6" stroke-width="1.1" stroke-dasharray="4 3.5"/>
<line x1="388.1" y1="870.31" x2="518.6" y2="870.31" stroke="#c6c6c6" stroke-width="1.1" stroke-dasharray="4 3.5"/>
<line x1="388.1" y1="1009.6" x2="392.1" y2="1009.6" stroke="#bbb" stroke-width="1"/>
<line x1="392.1" y1="1009.6" x2="392.1" y2="1013.6" stroke="#bbb" stroke-width="1"/>
<line x1="417.4" y1="1009.6" x2="417.4" y2="1013.6" stroke="#bbb" stroke-width="1"/>
<line x1="442.7" y1="1009.6" x2="442.7" y2="1013.6" stroke="#bbb" stroke-width="1"/>
<line x1="468" y1="1009.6" x2="468" y2="1013.6" stroke="#bbb" stroke-width="1"/>
<line x1="493.3" y1="1009.6" x2="493.3" y2="1013.6" stroke="#bbb" stroke-width="1"/>
<line x1="518.6" y1="1009.6" x2="518.6" y2="1013.6" stroke="#bbb" stroke-width="1"/>
<text x="382.1" y="1013.7" text-anchor="end" font-size="13">0</text>
<text x="382.1" y="978.88" text-anchor="end" font-size="13">20</text>
<text x="382.1" y="944.06" text-anchor="end" font-size="13">40</text>
<text x="382.1" y="909.23" text-anchor="end" font-size="13">60</text>
<text x="382.1" y="874.41" text-anchor="end" font-size="13">80</text>
<text transform="translate(409.65,1017.7) rotate(-90) scale(0.86,1)" text-anchor="end" font-size="13.4">0:1</text>
<text transform="translate(434.95,1017.7) rotate(-90) scale(0.86,1)" text-anchor="end" font-size="13.4">2:1</text>
<text transform="translate(460.25,1017.7) rotate(-90) scale(0.86,1)" text-anchor="end" font-size="13.4">5:1</text>
<text transform="translate(485.55,1017.7) rotate(-90) scale(0.86,1)" text-anchor="end" font-size="13.4">10:1</text>
<text transform="translate(510.85,1017.7) rotate(-90) scale(0.86,1)" text-anchor="end" font-size="13.4">20:1</text>
<path d="M392.1 852.9H518.6V1009.6H392.1Z" fill="none" stroke="#222" stroke-width="1.6"/>
<polyline points="404.75,1009.6 430.05,1006.3 455.35,1002.5 480.65,1001.3 505.95,1001.3" fill="none" stroke="#000" stroke-width="2.4" stroke-linejoin="round" stroke-dasharray="4.5 8.5" stroke-dashoffset="-6.3"/>
<polyline points="404.75,1009.6 430.05,983.8 455.35,948.8 480.65,917.5 505.95,895" fill="none" stroke="#000" stroke-width="2.6" stroke-linejoin="round" stroke-dasharray="4.5 8.5"/>
<polyline points="404.75,1009.6 430.05,999.5 455.35,993.8 480.65,976.3 505.95,941.3" fill="none" stroke="#000" stroke-width="2.1" stroke-linejoin="round"/>
<polyline points="404.75,1009.6 430.05,896.3 455.35,885 480.65,877 505.95,885" fill="none" stroke="#000" stroke-width="2.8" stroke-linejoin="round"/>
<path d="M430.05 978.7L435.15 983.8L430.05 988.9L424.95 983.8Z" fill="#000"/>
<path d="M455.35 943.7L460.45 948.8L455.35 953.9L450.25 948.8Z" fill="#000"/>
<path d="M480.65 912.4L485.75 917.5L480.65 922.6L475.55 917.5Z" fill="#000"/>
<path d="M505.95 889.9L511.05 895L505.95 900.1L500.85 895Z" fill="#000"/>
<path d="M430.05 1001.55L434.8 1006.3L430.05 1011.05L425.3 1006.3Z" fill="#fff" stroke="#000" stroke-width="1.35"/>
<path d="M455.35 997.75L460.1 1002.5L455.35 1007.25L450.6 1002.5Z" fill="#fff" stroke="#000" stroke-width="1.35"/>
<path d="M480.65 996.55L485.4 1001.3L480.65 1006.05L475.9 1001.3Z" fill="#fff" stroke="#000" stroke-width="1.35"/>
<path d="M505.95 996.55L510.7 1001.3L505.95 1006.05L501.2 1001.3Z" fill="#fff" stroke="#000" stroke-width="1.35"/>
<path d="M430.05 994.75L434.8 999.5L430.05 1004.25L425.3 999.5Z" fill="#fff" stroke="#000" stroke-width="1.35"/>
<path d="M455.35 989.05L460.1 993.8L455.35 998.55L450.6 993.8Z" fill="#fff" stroke="#000" stroke-width="1.35"/>
<path d="M480.65 971.55L485.4 976.3L480.65 981.05L475.9 976.3Z" fill="#fff" stroke="#000" stroke-width="1.35"/>
<path d="M505.95 936.55L510.7 941.3L505.95 946.05L501.2 941.3Z" fill="#fff" stroke="#000" stroke-width="1.35"/>
<path d="M430.05 891.2L435.15 896.3L430.05 901.4L424.95 896.3Z" fill="#000"/>
<path d="M455.35 879.9L460.45 885L455.35 890.1L450.25 885Z" fill="#000"/>
<path d="M480.65 871.9L485.75 877L480.65 882.1L475.55 877Z" fill="#000"/>
<path d="M505.95 879.9L511.05 885L505.95 890.1L500.85 885Z" fill="#000"/>
<path d="M404.75 1004.85L409.5 1009.6L404.75 1014.35L400 1009.6Z" fill="#fff" stroke="#000" stroke-width="1.35"/>
<text x="431.8" y="849.6" font-size="13.5" font-weight="bold" textLength="40.4" lengthAdjust="spacingAndGlyphs">K 562</text>
<path d="M28.7 1046.5V650" stroke="#000" stroke-width="2.4" fill="none"/>
<path d="M28.3 634.2L33.1 656.5L23.7 656.5Z" fill="#000"/>
<path d="M27.5 1046.6H492" stroke="#000" stroke-width="2.4" fill="none"/>
<path d="M508.5 1047.3L486.3 1042.8L486.3 1051.7Z" fill="#000"/>
<text x="-0.7" y="618.6" font-size="31" font-weight="bold">B</text>
<text transform="translate(16.0,919.6) rotate(-90)" font-size="20.6" font-weight="bold" textLength="238.5" lengthAdjust="spacing">specific cytolysis [ % ]</text>
<text x="176.7" y="1071.9" font-size="18.4" font-weight="bold" textLength="209" lengthAdjust="spacingAndGlyphs">[ effector&#8201;-&#8201;target ]  ratio</text>
</svg>
</body></html>
